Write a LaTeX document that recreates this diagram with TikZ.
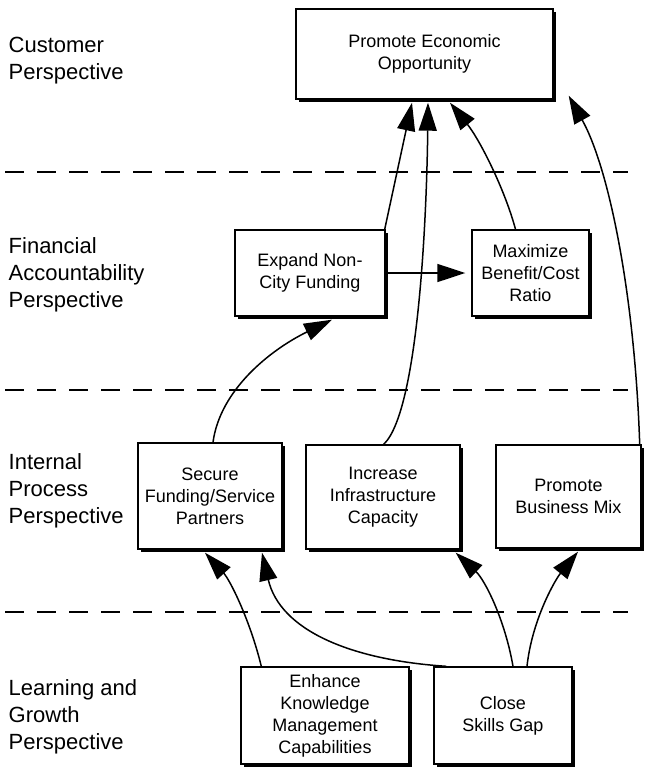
\documentclass[tikz,border=0pt]{standalone}
\usepackage{fontspec}
\setmainfont{Liberation Sans}
\usetikzlibrary{arrows.meta,shadows}

\begin{document}
\begin{tikzpicture}[x=1pt,y=-1pt,
  goal/.style={draw, line width=1.4pt, fill=white, align=center, inner sep=0pt,
    font=\fontsize{18}{22}\selectfont,
    drop shadow={shadow xshift=3pt, shadow yshift=-3pt, opacity=1, fill=black}},
  persp/.style={anchor=north west, align=left, inner sep=0pt,
    font=\fontsize{22}{27}\selectfont},
  divider/.style={line width=1.4pt, dash pattern=on 19pt off 13pt},
  link/.style={line width=1.5pt, -{Triangle[length=28pt,width=18pt]}},
]
\useasboundingbox (0,0) rectangle (657,769);

% perspective labels
\node[persp] (lcust) at (8.5,37) {Customer\\Perspective};
\node[persp] (lfin)  at (8.5,237) {Financial\\Accountability\\Perspective};
\node[persp] (lint)  at (8.5,453) {Internal\\Process\\Perspective};
\node[persp] (llrn)  at (8.5,679) {Learning and\\Growth\\Perspective};

% dividers between perspectives
\coordinate (d1a) at (5,172);  \coordinate (d1b) at (628,172);
\coordinate (d2a) at (5,390);  \coordinate (d2b) at (628,390);
\coordinate (d3a) at (5,612);  \coordinate (d3b) at (628,612);
\draw[divider] (d1a) -- (d1b);
\draw[divider] (d2a) -- (d2b);
\draw[divider] (d3a) -- (d3b);

% objectives
\node[goal, minimum width=257pt, minimum height=90pt] (econ) at (424.5,54) {Promote Economic\\Opportunity};
\node[goal, minimum width=150pt, minimum height=86pt] (fund) at (310,273) {Expand Non-\\City Funding};
\node[goal, minimum width=117pt, minimum height=86pt] (bcr) at (530.5,273) {Maximize\\Benefit/Cost\\Ratio};
\node[goal, minimum width=144pt, minimum height=106pt] (partn) at (210,496) {Secure\\Funding/Service\\Partners};
\node[goal, minimum width=154pt, minimum height=104pt] (infra) at (383,497) {Increase\\Infrastructure\\Capacity};
\node[goal, minimum width=145pt, minimum height=103pt] (mix) at (568.5,496.5) {Promote\\Business Mix};
\node[goal, minimum width=168pt, minimum height=97pt] (know) at (325,715.5) {Enhance\\Knowledge\\Management\\Capabilities};
\node[goal, minimum width=138pt, minimum height=97pt] (skill) at (503,715.5) {Close\\Skills Gap};

% cause-and-effect links
\draw[link] ([xshift=-1pt]fund.north east) -- ([xshift=-12.5pt,yshift=-3pt]econ.south);
\draw[link] ([xshift=-77pt]infra.north east) .. controls (420,410) and (427,200) .. ([xshift=3.5pt,yshift=-3pt]econ.south);
\draw[link] ([xshift=-15pt]bcr.north) .. controls (505,190) and (480,140) .. ([xshift=25.5pt,yshift=-3pt]econ.south);
\draw[link] ([xshift=-2pt]mix.north east) .. controls (635,300) and (610,170) .. ([xshift=15pt,yshift=4pt]econ.south east);
\draw[link] (fund.east) -- ([xshift=-6pt]bcr.west);
\draw[link] ([xshift=3pt]partn.north) .. controls (220,390) and (270,350) .. ([xshift=22pt,yshift=-3pt]fund.south);
\draw[link] ([xshift=21pt]know.north west) .. controls (250,620) and (230,580) .. ([xshift=-5pt,yshift=-3pt]partn.south);
\draw[link] ([xshift=13pt]skill.north west) .. controls (350,660) and (280,630) .. ([xshift=52pt,yshift=-3pt]partn.south);
\draw[link] ([xshift=10pt]skill.north) .. controls (505,620) and (485,580) .. ([xshift=-5pt,yshift=-3pt]infra.south east);
\draw[link] ([xshift=24pt]skill.north) .. controls (532,620) and (555,580) .. ([xshift=9.5pt,yshift=-3pt]mix.south);
\end{tikzpicture}
\end{document}
